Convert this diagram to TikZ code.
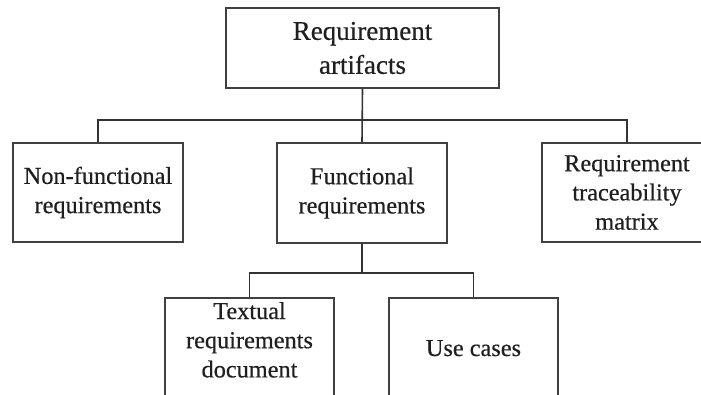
\documentclass[tikz,border=0pt]{standalone}
\usepackage{fontspec}
% slightly emboldened regular face for the box labels
\setmainfont{Liberation Serif}[BoldFont=Liberation Serif, BoldFeatures={FakeBold=0.5}]
\begin{document}
\begin{tikzpicture}[x=1pt,y=1pt,
  box/.style={draw=black!75, line width=2pt, inner sep=0pt, align=center,
    text=black!88, font=\fontsize{24.3}{29.2}\selectfont\bfseries, minimum width=170},
  topbox/.style={box, font=\fontsize{27}{34}\selectfont\bfseries},
  link/.style={draw=black!80, line width=1.6pt},
  leafbox/.style={box, anchor=north, minimum width=169, text depth=110pt}]
\useasboundingbox (0,0) rectangle (701,-395);

% root
\node[topbox, minimum width=273, minimum height=80] (root) at (362.5,-48)
  {Requirement\\artifacts};

% second level
\node[box, minimum height=99] (nf) at (98,-192.5) {Non-functional\\requirements};
\node[box, minimum height=100] (fr) at (362,-193) {Functional\\requirements};
\node[box, minimum height=99] (rtm) at (627,-192.5) {Requirement\\traceability\\matrix};

% third level (boxes run past the lower edge)
\node[leafbox, text height=21pt] (tx) at (249.5,-297)
  {\begin{tabular}[t]{@{}c@{}}Textual\\requirements\\document\end{tabular}};
\node[leafbox, text height=58pt] (uc) at (473.5,-297) {Use cases};

% connectors
\coordinate (hub) at (362,-120);
\coordinate (bhub) at (362,-273);
\draw[link] (root.south) -- (fr.north);
\draw[link] (nf.north) -- (nf.north |- hub) -- (rtm.north |- hub) -- (rtm.north);
\draw[link] (fr.south) -- (bhub);
\draw[link] (tx.north) -- (tx.north |- bhub) -- (uc.north |- bhub) -- (uc.north);
\end{tikzpicture}
\end{document}
